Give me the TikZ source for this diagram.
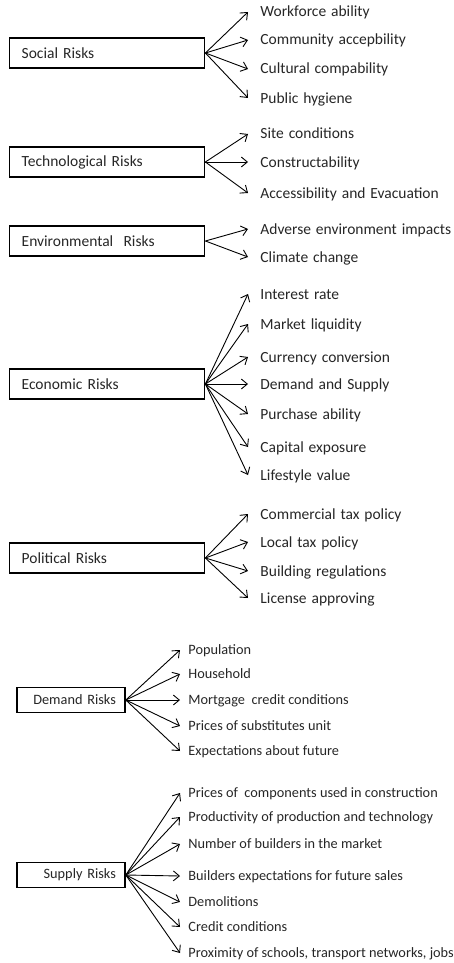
\documentclass[tikz,border=0pt]{standalone}
\usepackage{fontspec}
\setmainfont{Carlito}
\newfontfamily\upfont[WordSpace=1.4]{Carlito}
\usetikzlibrary{arrows.meta}

\begin{document}
\begin{tikzpicture}[
  x=1pt,y=-1pt,
  line width=0.9pt,
  >={Straight Barb[length=6pt,width=10pt]},
  risk/.style={rectangle,draw,line width=1.4pt,anchor=west,minimum height=30pt,text width=171pt,inner xsep=12pt,align=left,text=black!85,font=\upfont\fontsize{15.5}{18}\selectfont},
  lowrisk/.style={rectangle,draw,line width=1.8pt,anchor=west,minimum height=25pt,text width=90pt,inner xsep=9pt,align=right,text=black!85,font=\fontsize{14.3}{17}\selectfont},
  item/.style={anchor=west,inner xsep=12pt,inner ysep=0pt,text height=13pt,text depth=3pt,text=black!85,font=\upfont\fontsize{15.5}{18}\selectfont},
  lowitem/.style={item,inner xsep=8pt,text height=12pt,font=\fontsize{14.3}{17}\selectfont}
]
  \useasboundingbox (0,0) rectangle (454,963);
  % social
  \node[risk](soc) at (9,53){Social Risks};
  \node[item](soc1) at (248,12){Workforce ability};
  \node[item](soc2) at (248,40){Community accepbility};
  \node[item](soc3) at (248,69){Cultural compability};
  \node[item](soc4) at (248,98){Public hygiene};
  \path[->]
    (soc.east) edge (soc1.west)
    (soc.east) edge (soc2.west)
    (soc.east) edge (soc3.west)
    (soc.east) edge (soc4.west)
  ;
  % technological
  \node[risk](tech) at (9,162){Technological Risks};
  \node[item](tech1) at (248,134){Site conditions};
  \node[item](tech2) at (248,162){Constructability};
  \node[item](tech3) at (248,193){Accessibility and Evacuation};
  \path[->]
    (tech.east) edge (tech1.west)
    (tech.east) edge (tech2.west)
    (tech.east) edge (tech3.west)
  ;
  % environmental
  \node[risk](env) at (9,241){Environmental~ Risks};
  \node[item](env1) at (248,229){Adverse environment impacts};
  \node[item](env2) at (248,257){Climate change};
  \path[->]
    (env.east) edge (env1.west)
    (env.east) edge (env2.west)
  ;
  % economic
  \node[risk](eco) at (9,384){Economic Risks};
  \node[item](eco1) at (248,294){Interest rate};
  \node[item](eco2) at (248,324){Market liquidity};
  \node[item](eco3) at (248,357){Currency conversion};
  \node[item](eco4) at (248,384){Demand and Supply};
  \node[item](eco5) at (248,414){Purchase ability};
  \node[item](eco6) at (248,447){Capital exposure};
  \node[item](eco7) at (248,475){Lifestyle value};
  \path[->]
    (eco.east) edge (eco1.west)
    (eco.east) edge (eco2.west)
    (eco.east) edge (eco3.west)
    (eco.east) edge (eco4.west)
    (eco.east) edge (eco5.west)
    (eco.east) edge (eco6.west)
    (eco.east) edge (eco7.west)
  ;
  % political
  \node[risk](pol) at (9,558){Political Risks};
  \node[item](pol1) at (248,514){Commercial tax policy};
  \node[item](pol2) at (248,542){Local tax policy};
  \node[item](pol3) at (248,571){Building regulations};
  \node[item](pol4) at (248,598){License approving};
  \path[->]
    (pol.east) edge (pol1.west)
    (pol.east) edge (pol2.west)
    (pol.east) edge (pol3.west)
    (pol.east) edge (pol4.west)
  ;
  % demand
  \node[lowrisk](dem) at (16,700){Demand Risks};
  \node[lowitem](dem1) at (180,650){Population};
  \node[lowitem](dem2) at (180,674){Household};
  \node[lowitem](dem3) at (180,700){Mortgage~ credit conditions};
  \node[lowitem](dem4) at (180,726){Prices of substitutes unit};
  \node[lowitem](dem5) at (180,751){Expectations about future};
  \path[->]
    (dem.east) edge (dem1.west)
    (dem.east) edge (dem2.west)
    (dem.east) edge (dem3.west)
    (dem.east) edge (dem4.west)
    (dem.east) edge (dem5.west)
  ;
  % supply
  \node[lowrisk](sup) at (16,875){Supply Risks};
  \node[lowitem](sup1) at (180,793){Prices of~ components used in construction};
  \node[lowitem](sup2) at (180,817){Productivity of production and technology};
  \node[lowitem](sup3) at (180,844){Number of builders in the market};
  \node[lowitem](sup4) at (180,876){Builders expectations for future sales};
  \node[lowitem](sup5) at (180,902){Demolitions};
  \node[lowitem](sup6) at (180,927){Credit conditions};
  \node[lowitem](sup7) at (180,953){Proximity of schools, transport networks, jobs};
  \path[->]
    (sup.east) edge (sup1.west)
    (sup.east) edge (sup2.west)
    (sup.east) edge (sup3.west)
    (sup.east) edge (sup4.west)
    (sup.east) edge (sup5.west)
    (sup.east) edge (sup6.west)
    (sup.east) edge (sup7.west)
  ;
\end{tikzpicture}
\end{document}
